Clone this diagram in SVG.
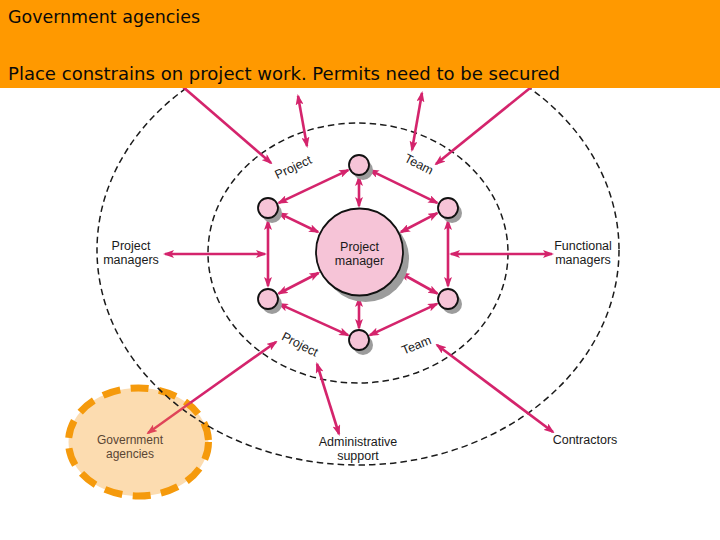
<svg xmlns="http://www.w3.org/2000/svg" width="720" height="540" viewBox="0 0 720 540">
<style>
.hdr{font-family:"DejaVu Sans",Verdana,sans-serif;font-size:17px;fill:#0a0a0a}
.lbl{font-family:"Liberation Sans",Arial,sans-serif;font-size:12.5px;fill:#1a1a1a;text-anchor:middle}
.gov{font-family:"Liberation Sans",Arial,sans-serif;font-size:12px;fill:#5a4634;text-anchor:middle}
.ring{fill:none;stroke:#1a1a1a;stroke-width:1.5;stroke-dasharray:6.5 4}
.c{stroke:#d4246c;stroke-width:2.6;fill:none}
.c2{marker-start:url(#ah);marker-end:url(#ah)}
.c1{marker-end:url(#ah)}
.node{fill:#f6c4d7;stroke:#111;stroke-width:1.8}
.sh{fill:#9c9c9c}
</style>
<defs>
<marker id="ah" viewBox="0 0 11 8" refX="9" refY="4" markerWidth="11" markerHeight="8" markerUnits="userSpaceOnUse" orient="auto-start-reverse">
<path d="M0,0 L11,4 L0,8 L2.5,4 z" fill="#d4246c"/>
</marker>
<marker id="ahr" viewBox="0 0 11 8" refX="9" refY="4" markerWidth="11" markerHeight="8" markerUnits="userSpaceOnUse" orient="auto-start-reverse">
<path d="M0,0 L11,4 L0,8 L2.5,4 z" fill="#df4458"/>
</marker>
</defs>
<rect width="720" height="540" fill="#fff"/>

<g id="gov-agencies-area">
<ellipse cx="138.5" cy="442" rx="70" ry="54" fill="#fcdcb0" stroke="#f59a0c" stroke-width="7" stroke-dasharray="18 10.5"/>
</g>

<g id="rings">
<ellipse class="ring" cx="358" cy="250" rx="261" ry="215"/>
<ellipse class="ring" cx="358" cy="253" rx="150" ry="130"/>
</g>

<g id="connectors">
<line class="c c2" x1="359" y1="177" x2="359" y2="206"/>
<line class="c c2" x1="348.2" y1="170.1" x2="278.8" y2="202.9"/>
<line class="c c2" x1="369.8" y1="170.1" x2="437.2" y2="202.9"/>
<line class="c c2" x1="268" y1="221" x2="268" y2="286"/>
<line class="c c2" x1="448" y1="221" x2="448" y2="286"/>
<line class="c c2" x1="278.8" y1="213.2" x2="318" y2="232"/>
<line class="c c2" x1="437.2" y1="213.2" x2="401" y2="232"/>
<line class="c c2" x1="278.7" y1="293.5" x2="318.5" y2="273"/>
<line class="c c2" x1="437.3" y1="293.5" x2="400.5" y2="273"/>
<line class="c c2" x1="279" y1="303.9" x2="348.1" y2="335.1"/>
<line class="c c2" x1="437" y1="303.9" x2="369.9" y2="335.1"/>
<line class="c c2" x1="359" y1="298" x2="359" y2="328"/>
<line class="c c2" x1="165" y1="254" x2="265" y2="254"/>
<line class="c c2" x1="451" y1="254" x2="552" y2="254"/>
<line class="c c1" x1="175" y1="80" x2="271" y2="163"/>
<line class="c c2" x1="298" y1="96" x2="307" y2="146"/>
<line class="c c2" x1="422" y1="93" x2="412" y2="150"/>
<line class="c c1" x1="540" y1="80" x2="436" y2="164"/>
<line class="c" x1="190" y1="403" x2="276" y2="342" marker-end="url(#ah)"/>
<line x1="191" y1="402.3" x2="148" y2="433" stroke="#df4458" stroke-width="2.4" marker-end="url(#ahr)"/>
<line class="c c2" x1="317" y1="364" x2="339" y2="434"/>
<line class="c c2" x1="437" y1="345" x2="553" y2="432"/>
</g>

<g id="project-manager">
<circle class="sh" cx="365.5" cy="258.5" r="43.5"/>
<circle class="node" cx="359.5" cy="252" r="43.5" stroke-width="2"/>
<text class="lbl" x="359.5" y="251" font-size="13">Project</text>
<text class="lbl" x="359.5" y="265" font-size="13">manager</text>
</g>

<g id="member-top"><circle class="sh" cx="363" cy="170" r="10"/><circle class="node" cx="359" cy="165" r="10"/></g>
<g id="member-upper-left"><circle class="sh" cx="272" cy="213" r="10"/><circle class="node" cx="268" cy="208" r="10"/></g>
<g id="member-upper-right"><circle class="sh" cx="452" cy="213" r="10"/><circle class="node" cx="448" cy="208" r="10"/></g>
<g id="member-lower-left"><circle class="sh" cx="272" cy="304" r="10"/><circle class="node" cx="268" cy="299" r="10"/></g>
<g id="member-lower-right"><circle class="sh" cx="452" cy="304" r="10"/><circle class="node" cx="448" cy="299" r="10"/></g>
<g id="member-bottom"><circle class="sh" cx="363" cy="345" r="10"/><circle class="node" cx="359" cy="340" r="10"/></g>

<g id="ring-labels">
<text class="lbl" transform="translate(295,171) rotate(-25)">Project</text>
<text class="lbl" transform="translate(417,168) rotate(27)">Team</text>
<text class="lbl" transform="translate(298,348) rotate(27)">Project</text>
<text class="lbl" transform="translate(418,349) rotate(-22)">Team</text>
</g>

<g id="project-managers">
<text class="lbl" x="131" y="250">Project</text>
<text class="lbl" x="131" y="264">managers</text>
</g>
<g id="functional-managers">
<text class="lbl" x="583" y="250">Functional</text>
<text class="lbl" x="583" y="264">managers</text>
</g>
<g id="administrative-support">
<text class="lbl" x="358" y="446">Administrative</text>
<text class="lbl" x="358" y="460">support</text>
</g>
<g id="contractors">
<text class="lbl" x="585" y="444">Contractors</text>
</g>
<g id="government-agencies">
<text class="gov" x="130" y="444">Government</text>
<text class="gov" x="130" y="458">agencies</text>
</g>

<g id="header">
<rect x="0" y="0" width="720" height="88" fill="#ff9900"/>
<text class="hdr" x="8" y="23" textLength="192" lengthAdjust="spacingAndGlyphs">Government agencies</text>
<text class="hdr" x="8" y="80" textLength="552" lengthAdjust="spacingAndGlyphs">Place constrains on project work. Permits need to be secured</text>
</g>
</svg>
